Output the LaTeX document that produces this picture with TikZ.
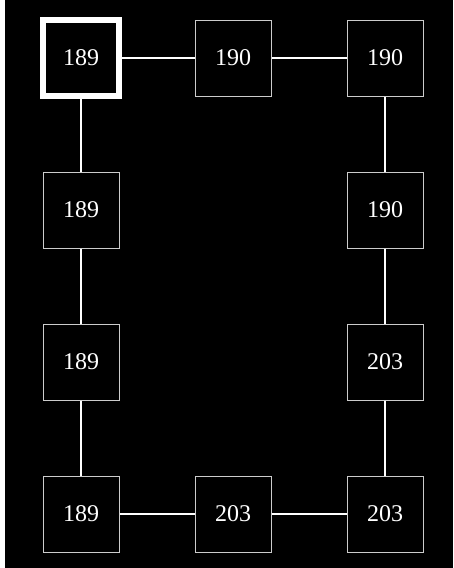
\documentclass[tikz,border=0pt]{standalone}
\usepackage{fontspec}
\setmainfont{Liberation Serif}
\begin{document}
\begin{tikzpicture}[x=1pt,y=-1pt,
  cell/.style={draw=black!20,line width=1pt,fill=black,text=white,minimum size=76pt,inner sep=0pt,font=\fontsize{24}{24}\selectfont},
  startcell/.style={cell,draw=white,line width=6pt,minimum size=76pt},
  link/.style={draw=white,line width=2.5pt}]
\useasboundingbox (0,0) rectangle (453,568);
\fill[white] (0,0) rectangle (453,568);
\fill[black] (5,0) rectangle (453,568);
\node[startcell] (a1) at (81,58) {189};
\node[cell] (a2) at (233,58) {190};
\node[cell] (a3) at (385,58) {190};
\node[cell] (b1) at (81,210) {189};
\node[cell] (b3) at (385,210) {190};
\node[cell] (c1) at (81,362) {189};
\node[cell] (c3) at (385,362) {203};
\node[cell] (d1) at (81,514) {189};
\node[cell] (d2) at (233,514) {203};
\node[cell] (d3) at (385,514) {203};
\begin{scope}[on background layer/.try]
\end{scope}
\draw[link] (a1) -- (a2);
\draw[link] (a2) -- (a3);
\draw[link] (a1) -- (b1);
\draw[link] (b1) -- (c1);
\draw[link] (c1) -- (d1);
\draw[link] (d1) -- (d2);
\draw[link] (d2) -- (d3);
\draw[link] (a3) -- (b3);
\draw[link] (b3) -- (c3);
\draw[link] (c3) -- (d3);
\end{tikzpicture}
\end{document}
